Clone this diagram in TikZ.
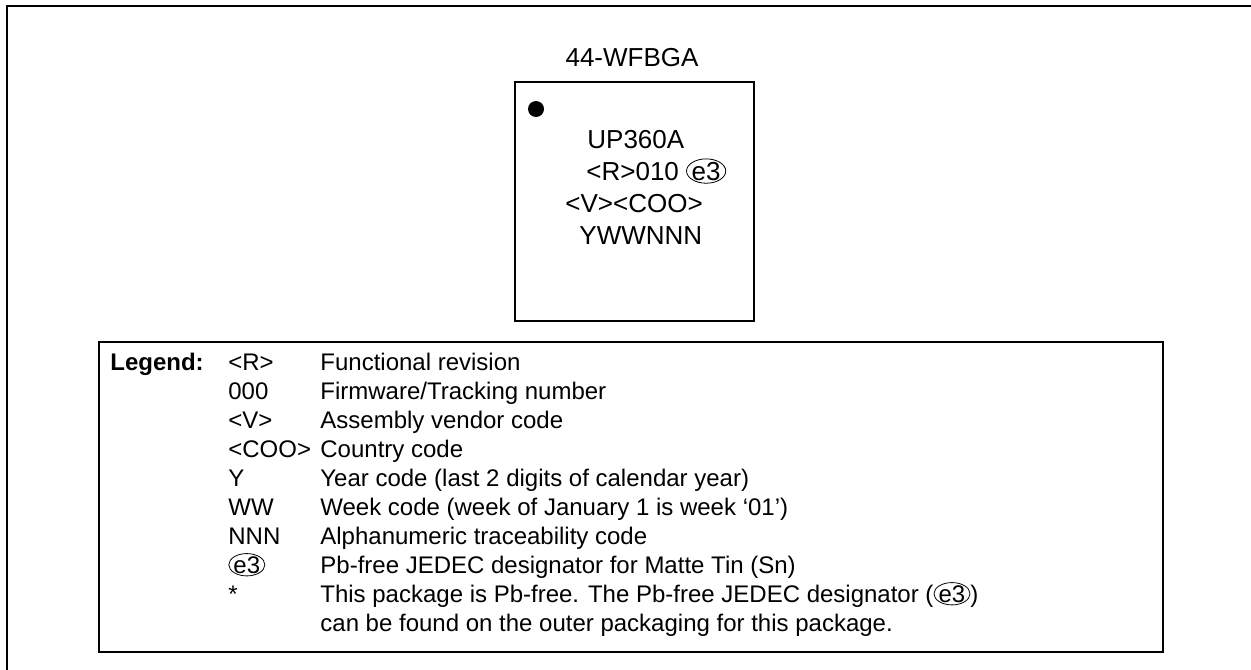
\documentclass[tikz,border=0pt]{standalone}
\usepackage{fontspec}
\setmainfont{Liberation Sans}
\usetikzlibrary{positioning, shapes.geometric}

\newcommand{\pbfree}{\tikz[baseline=(pb.base)]\node[draw, ellipse, line width=0.4pt, inner sep=-0.3pt] (pb) {e3};}

\begin{document}
\begin{tikzpicture}[x=0.5pt, y=-0.5pt,
      frameline/.style={line width=1pt},
      marktext/.style={anchor=base west, inner sep=0pt, font=\fontsize{13}{16}\selectfont},
      legtext/.style={anchor=base west, inner sep=0pt, font=\fontsize{12}{14}\selectfont}
    ]
      \useasboundingbox (0,0) rectangle (1251,669);
      % outer frame, runs off the page
      \draw[frameline] (7,690) -- (7,6) -- (1270,6);
      % package top view
      \node[draw, frameline, minimum width=119.5pt, minimum height=119.5pt, inner sep=0pt] (pkg) at (634.5,201.5) {};
      \node[marktext, anchor=base] (title) at (632,66) {44-WFBGA};
      \fill (536,109) circle (4pt);
      \node[marktext] (m1) at (587,148) {UP360A};
      \node[marktext] (m2) at (586,180) {<R>010 \pbfree};
      \node[marktext] (m3) at (565,212) {<V><COO>};
      \node[marktext] (m4) at (579,244) {YWWNNN};
      % legend
      \node[draw, frameline, minimum width=532pt, minimum height=155pt, inner sep=0pt] (legbox) at (631,497) {};
      \node[legtext, font=\fontsize{12}{14}\selectfont\bfseries] (leg) at (110,370) {Legend:};
      \node[legtext] (k1) at (228,370) {<R>};
      \node[legtext] (k2) at (228,399) {000};
      \node[legtext] (k3) at (228,428) {<V>};
      \node[legtext] (k4) at (228,457) {<COO>};
      \node[legtext] (k5) at (228,486) {Y};
      \node[legtext] (k6) at (228,515) {WW};
      \node[legtext] (k7) at (228,544) {NNN};
      \node[legtext] (k8) at (228,573) {\pbfree};
      \node[legtext] (k9) at (228,602) {*};
      \node[legtext] (d1) at (320,370) {Functional revision};
      \node[legtext] (d2) at (320,399) {Firmware/Tracking number};
      \node[legtext] (d3) at (320,428) {Assembly vendor code};
      \node[legtext] (d4) at (320,457) {Country code};
      \node[legtext] (d5) at (320,486) {Year code (last 2 digits of calendar year)};
      \node[legtext] (d6) at (320,515) {Week code (week of January 1 is week ‘01’)};
      \node[legtext] (d7) at (320,544) {Alphanumeric traceability code};
      \node[legtext] (d8) at (320,573) {Pb-free JEDEC designator for Matte Tin (Sn)};
      \node[legtext] (d9) at (320,602) {This package is Pb-free. The Pb-free JEDEC designator (\pbfree)};
      \node[legtext] (d10) at (320,631) {can be found on the outer packaging for this package.};
    \end{tikzpicture}
\end{document}
